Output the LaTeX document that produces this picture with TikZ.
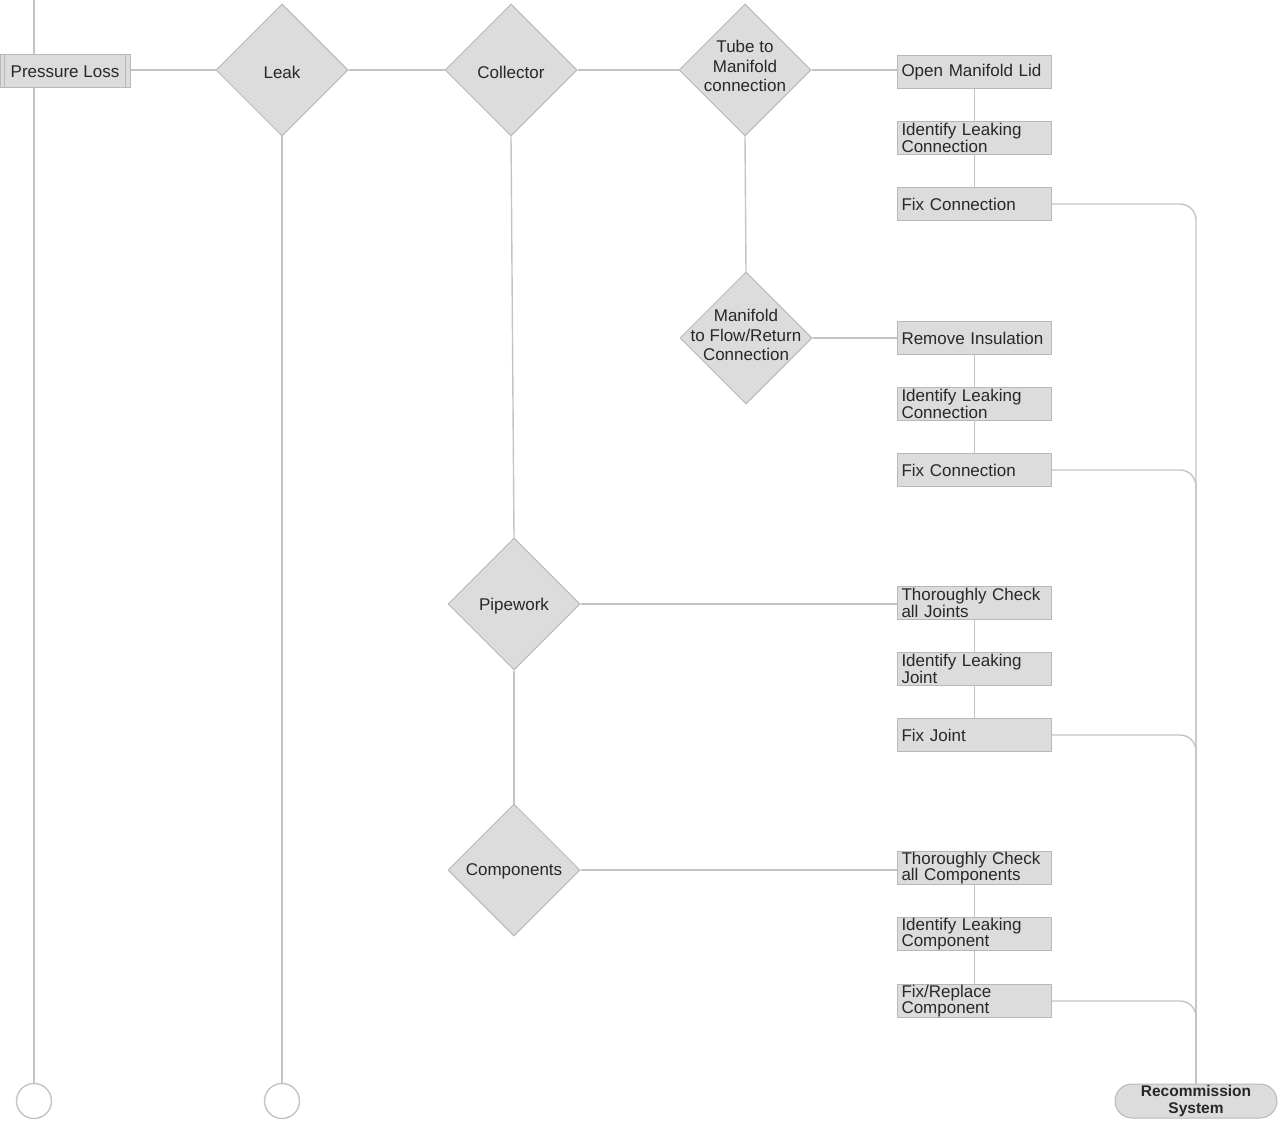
\documentclass[tikz,border=0pt]{standalone}
\usepackage{fontspec}
\setmainfont{Liberation Sans}
\usetikzlibrary{shapes.geometric,backgrounds}
\definecolor{boxfill}{HTML}{DCDCDC}
\definecolor{boxdraw}{HTML}{B8B8B8}
\definecolor{linec}{HTML}{C4C4C4}
\definecolor{txtc}{HTML}{282828}
\tikzset{
  conn/.style={draw=linec, line width=1.4pt},
  stepbox/.style={rectangle, draw=boxdraw, fill=boxfill, line width=1pt,
    minimum width=154pt, minimum height=33pt, text width=146pt, align=left,
    inner xsep=4pt, inner ysep=0pt, anchor=west, text=txtc,
    font=\fontsize{17}{16.5}\selectfont},
  dia/.style={diamond, aspect=1, draw=boxdraw, fill=boxfill, line width=1pt,
    minimum width=132pt, minimum height=132pt, inner sep=0pt},
  diatxt/.style={text=txtc, align=center, inner sep=0pt,
    font=\fontsize{17}{19.5}\selectfont},
  endc/.style={circle, draw=linec, line width=1.4pt, fill=white, minimum size=35pt, inner sep=0pt},
}
\begin{document}
\begin{tikzpicture}[x=1pt,y=-1pt]
\useasboundingbox (0,0) rectangle (1278,1121);
% start / main
\node[rectangle, draw=boxdraw, fill=boxfill, line width=1pt, minimum width=130pt, minimum height=33pt,
  inner sep=0pt, text=txtc, font=\fontsize{17}{17}\selectfont] (pl) at (65,71.5) {Pressure Loss};
\draw[draw=boxdraw, line width=1pt] ([xshift=5pt]pl.north west) -- ([xshift=5pt]pl.south west)
  ([xshift=-5pt]pl.north east) -- ([xshift=-5pt]pl.south east);
\coordinate (top) at (34,0);
\node[endc] (end1) at (34,1101) {};
\node[endc] (end2) at (282,1101) {};

\node[dia] (leak) at (282,70) {};
\node[diatxt] (leakt) at (282,72) {Leak};
\node[dia] (coll) at (511,70) {};
\node[diatxt] (collt) at (511,72) {Collector};
\node[dia] (tube) at (745,70) {};
\node[diatxt] (tubet) at (745,66) {Tube to\\Manifold\\connection};
\node[dia] (mani) at (746,338) {};
\node[diatxt] (manit) at (746,335) {Manifold\\to Flow/Return\\Connection};
\node[dia] (pipe) at (514,604) {};
\node[diatxt] (pipet) at (514,606) {Pipework};
\node[dia] (comp) at (514,870) {};
\node[diatxt] (compt) at (514,871) {Components};

% step boxes
\node[stepbox] (a1) at (897,72) {Open Manifold Lid};
\node[stepbox] (a2) at (897,138) {Identify Leaking\\Connection};
\node[stepbox] (a3) at (897,204) {Fix Connection};
\node[stepbox] (b1) at (897,338) {Remove Insulation};
\node[stepbox] (b2) at (897,404) {Identify Leaking\\Connection};
\node[stepbox] (b3) at (897,470) {Fix Connection};
\node[stepbox] (c1) at (897,603) {Thoroughly Check\\all Joints};
\node[stepbox] (c2) at (897,669) {Identify Leaking\\Joint};
\node[stepbox] (c3) at (897,735) {Fix Joint};
\node[stepbox] (d1) at (897,868) {Thoroughly Check\\all Components};
\node[stepbox] (d2) at (897,934) {Identify Leaking\\Component};
\node[stepbox] (d3) at (897,1001) {Fix/Replace\\Component};

\node[rectangle, rounded corners=17pt, draw=boxdraw, fill=boxfill, line width=1pt,
  minimum width=162pt, minimum height=34pt, inner sep=0pt, align=center, text=txtc,
  font=\bfseries\fontsize{15.5}{16.5}\selectfont] (rec) at (1196,1101) {Recommission\\System};

\begin{pgfonlayer}{background}
\draw[conn] (top) -- (end1);
\draw[conn] (pl.east |- leak.west) -- (leak.west);
\draw[conn] (leak.south) -- (end2);
\draw[conn] (leak.east) -- (coll.west);
\draw[conn] (coll.east) -- (tube.west);
\draw[conn] (tube.east) -- (tube.east -| a1.west);
\draw[conn] (tube.south) -- (mani.north);
\draw[conn] (mani.east) -- (mani.east -| b1.west);
\draw[conn] (coll.south) -- (pipe.north);
\draw[conn] (pipe.east) -- (pipe.east -| c1.west);
\draw[conn] (pipe.south) -- (comp.north);
\draw[conn] (comp.east) -- (comp.east -| d1.west);
\foreach \u/\v in {a1/a2,a2/a3,b1/b2,b2/b3,c1/c2,c2/c3,d1/d2,d2/d3}
  \draw[conn] (\u.south) -- (\v.north);
\foreach \u in {a3,b3,c3,d3}
  \draw[conn, rounded corners=16pt] (\u.east) -| (rec.north);
\end{pgfonlayer}
\end{tikzpicture}
\end{document}
